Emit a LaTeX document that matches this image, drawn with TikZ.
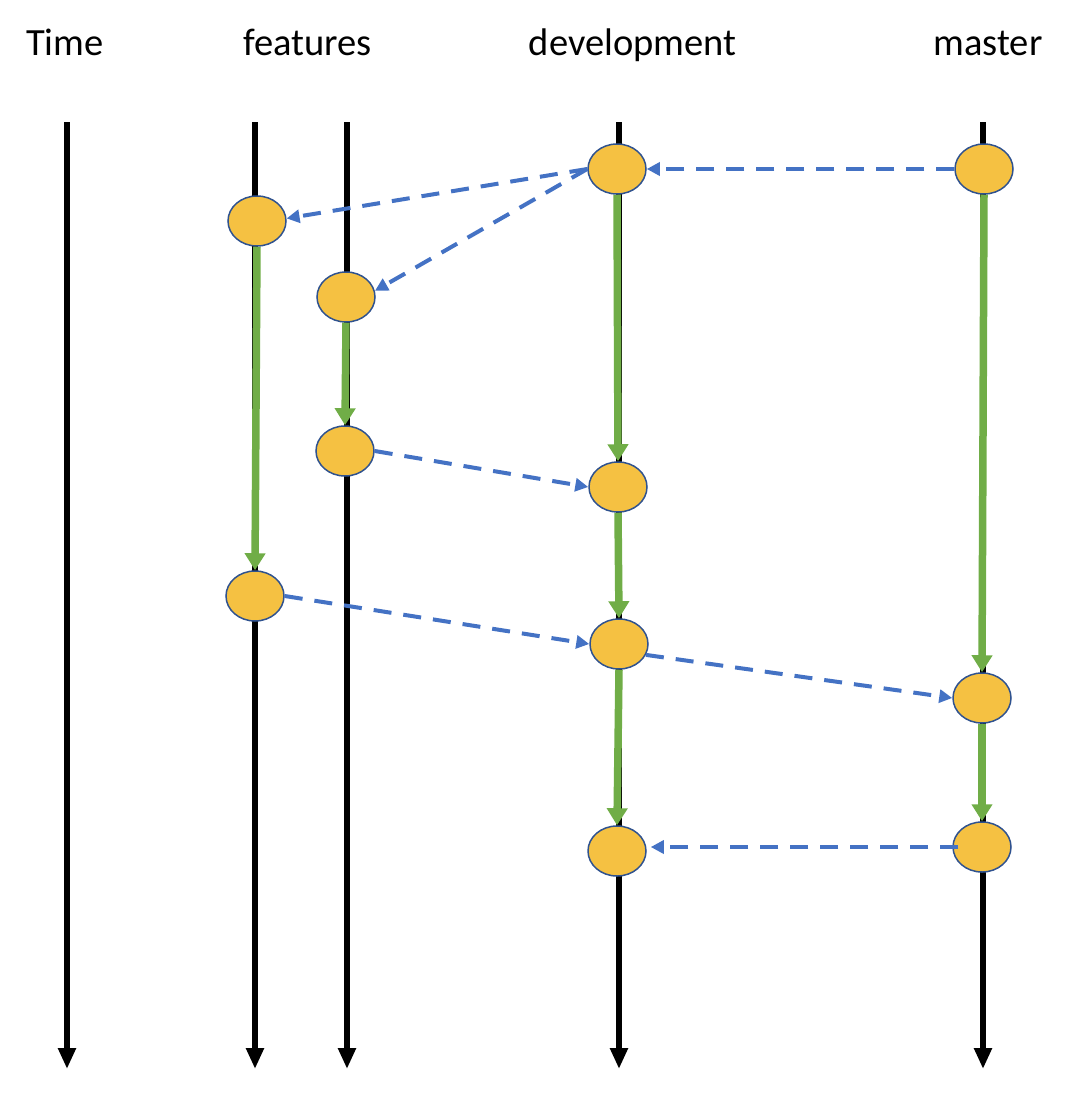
\documentclass[tikz,border=0pt]{standalone}
\usepackage{fontspec}
\setmainfont{Carlito}
\usetikzlibrary{arrows.meta,shapes.geometric}
\definecolor{commitfill}{RGB}{245,193,66}
\definecolor{commitborder}{RGB}{47,82,143}
\definecolor{dashblue}{RGB}{68,114,196}
\definecolor{arrowgreen}{RGB}{112,173,71}
\begin{document}
\begin{tikzpicture}[x=1pt,y=-1pt,
  commit/.style={ellipse,draw=commitborder,line width=1.5pt,fill=commitfill,
    minimum width=58pt,minimum height=50pt,inner sep=0pt},
  timeline/.style={line width=6.5pt,-{Triangle[length=21pt,width=17pt]}},
  flow/.style={arrowgreen,line width=7.5pt,-{Triangle[length=17pt,width=20pt]}},
  merge/.style={dashblue,line width=4pt,dash pattern=on 18pt off 12pt,
    -{Triangle[length=13pt,width=13pt]}},
  lanelabel/.style={anchor=base,font=\fontsize{38.5}{46}\selectfont,inner sep=0pt}]
\useasboundingbox (0,0) rectangle (1066,1098);
% labels
\node[lanelabel] (ltime) at (65,55) {Time};
\node[lanelabel] (lfeat) at (307.5,55) {features};
\node[lanelabel] (ldev) at (632.5,55) {development};
\node[lanelabel] (lmaster) at (988,55) {master};
% lane ends
\coordinate (t0) at (67,122);   \coordinate (t1) at (67,1069);
\coordinate (fa0) at (255,122); \coordinate (fa1) at (255,1069);
\coordinate (fb0) at (347,122); \coordinate (fb1) at (347,1069);
\coordinate (d0) at (619,122);  \coordinate (d1) at (619,1069);
\coordinate (m0) at (983,122);  \coordinate (m1) at (983,1069);
\draw[timeline] (t0) -- (t1);
\draw[timeline] (fa0) -- (fa1);
\draw[timeline] (fb0) -- (fb1);
\draw[timeline] (d0) -- (d1);
\draw[timeline] (m0) -- (m1);
% commits
\node[commit] (dev1) at (617,169) {};
\node[commit] (master1) at (984,169) {};
\node[commit] (f1a) at (257,221) {};
\node[commit] (f2a) at (346,297) {};
\node[commit] (f2b) at (345,451) {};
\node[commit] (dev2) at (618,487) {};
\node[commit] (f1b) at (255,596) {};
\node[commit] (dev3) at (619,644) {};
\node[commit] (master2) at (982,698) {};
\node[commit] (master3) at (982,847) {};
\node[commit] (dev4) at (617,851) {};
% green flows
\draw[flow] (f1a.south) -- (f1b.north);
\draw[flow] (f2a.south) -- (f2b.north);
\draw[flow] (dev1.south) -- (dev2.north);
\draw[flow] (dev2.south) -- (dev3.north);
\draw[flow] (dev3.south) -- (dev4.north);
\draw[flow] (master1.south) -- (master2.north);
\draw[flow] (master2.south) -- (master3.north);
% blue merges
\draw[merge] (master1.west) -- (dev1.east);
\draw[merge] (dev1.west) -- (f1a.5);
\draw[merge] (dev1.west) -- (f2a.12);
\draw[merge] (f2b.east) -- (dev2.west);
\draw[merge] (f1b.east) -- (dev3.west);
\draw[merge] (dev3.-22) -- (master2.west);
\draw[merge] ([xshift=6pt]master3.west) -- ([xshift=4pt]dev4.east |- master3.west);
\end{tikzpicture}
\end{document}
